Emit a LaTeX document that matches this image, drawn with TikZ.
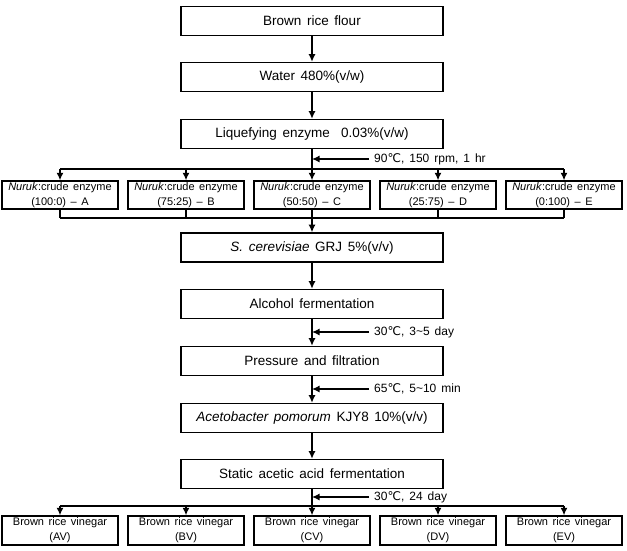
\documentclass[tikz,border=0pt]{standalone}
\usepackage{fontspec}
\setmainfont{Liberation Sans}[WordSpace=1.5]
\newfontfamily\symfont{DejaVu Sans}
\usetikzlibrary{arrows.meta}
\usetikzlibrary{math}
\newcommand{\degC}{{\symfont\char"2103}}

\tikzset{
  stepbox/.style={draw, line width=1.6pt, minimum width=262pt, minimum height=29pt, inner sep=0pt, font=\fontsize{13.5}{15}\selectfont},
  smallbox/.style={draw, line width=1.4pt, minimum width=116pt, minimum height=28pt, inner sep=0pt, align=center, font=\fontsize{11}{15}\selectfont},
  flow/.style={line width=1.3pt, -{Latex[length=7.5pt,width=7pt]}},
  link/.style={line width=1.3pt},
  cond/.style={anchor=west, inner xsep=5pt, inner ysep=0pt, font=\fontsize{12}{14}\selectfont},
}

\begin{document}
\begin{tikzpicture}[x=1pt, y=-1pt]
\tikzmath{
\xm=312;
\dx=126;
\xc=369;
}
\useasboundingbox (0,0) rectangle (627,550);

% main line
\node[stepbox] (flour) at (\xm,21) {Brown rice flour};
\node[stepbox] (water) at (\xm,77) {Water 480\%(v/w)};
\node[stepbox] (liq) at (\xm,134) {Liquefying enzyme\ \ 0.03\%(v/w)};
\node[stepbox] (yeast) at (\xm,247.5) {\textit{S. cerevisiae} GRJ 5\%(v/v)};
\node[stepbox] (alc) at (\xm,304) {Alcohol fermentation};
\node[stepbox] (press) at (\xm,361) {Pressure and filtration};
\node[stepbox] (aceto) at (\xm,418) {\textit{Acetobacter pomorum} KJY8 10\%(v/v)};
\node[stepbox] (static) at (\xm,474) {Static acetic acid fermentation};

\coordinate (split) at (\xm,169);
\coordinate (merge) at (\xm,218);
\coordinate (split2) at (\xm,506);

\draw[flow] (flour) -- (water);
\draw[flow] (water) -- (liq);
\draw[link] (liq) -- (split);

% nuruk : crude enzyme
\foreach \k/\rat/\lab in {-2/100:0/A, -1/75:25/B, 0/50:50/C, 1/25:75/D, 2/0:100/E}{
  \node[smallbox] (nur\lab) at (\xm+\k*\dx,195) {\textit{Nuruk}:crude enzyme\\(\rat) -- \lab};
  \draw[flow] (nur\lab.north |- split) -- (nur\lab.north);
  \draw[link] (nur\lab.south) -- (nur\lab.south |- merge);
}
\draw[link] (nurA.north |- split) -- (nurE.north |- split);
\draw[link] (nurA.south |- merge) -- (nurE.south |- merge);
\draw[flow] (merge) -- (yeast);

\draw[flow] (yeast) -- (alc);
\draw[flow] (alc) -- (press);
\draw[flow] (press) -- (aceto);
\draw[flow] (aceto) -- (static);
\draw[link] (static) -- (split2);

% vinegars
\foreach \k/\lab in {-2/A, -1/B, 0/C, 1/D, 2/E}{
  \node[smallbox, minimum height=29pt] (vin\lab) at (\xm+\k*\dx,530.5) {Brown rice vinegar\\(\lab V)};
  \draw[flow] (vin\lab.north |- split2) -- (vin\lab.north);
}
\draw[link] (vinA.north |- split2) -- (vinE.north |- split2);

% conditions
\node[cond] (c1) at (\xc,159) {90\degC, 150 rpm, 1 hr};
\node[cond] (c2) at (\xc,332) {30\degC, 3\textasciitilde5 day};
\node[cond] (c3) at (\xc,389) {65\degC, 5\textasciitilde10 min};
\node[cond] (c4) at (\xc,497) {30\degC, 24 day};
\foreach \c in {c1,c2,c3,c4}{
  \draw[flow] (\c.west) -- (\c.west -| flour.south);
}
\end{tikzpicture}
\end{document}
